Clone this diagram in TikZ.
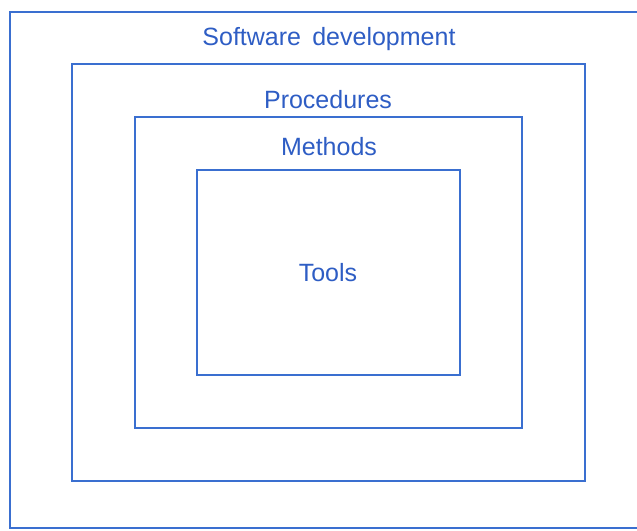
\documentclass[tikz,border=0pt]{standalone}
\usepackage{fontspec}
\setmainfont{Liberation Sans}
\definecolor{lineblue}{HTML}{3A6FD0}
\definecolor{textblue}{HTML}{2E5DC4}
\tikzset{
  layerbox/.style={draw=lineblue, line width=2pt},
  layerlabel/.style={text=textblue, font=\fontsize{25}{28}\selectfont, inner sep=0pt, anchor=center}
}
\begin{document}
\begin{tikzpicture}[x=1pt,y=-1pt]
\useasboundingbox (0,0) rectangle (637,530);
\begin{scope}
\clip (0,0) rectangle (637,530);
\draw[layerbox] (10,12) rectangle (650,528);
\end{scope}
\draw[layerbox] (72,64) rectangle (585,481);
\draw[layerbox] (135,117) rectangle (522,428);
\draw[layerbox] (197,170) rectangle (460,375);
\node[layerlabel] (sd) at (329,39) {Software\hspace{0.45em}development};
\node[layerlabel] (pr) at (328,100) {Procedures};
\node[layerlabel] (me) at (329,147) {Methods};
\node[layerlabel] (to) at (328,273) {Tools};
\end{tikzpicture}
\end{document}
